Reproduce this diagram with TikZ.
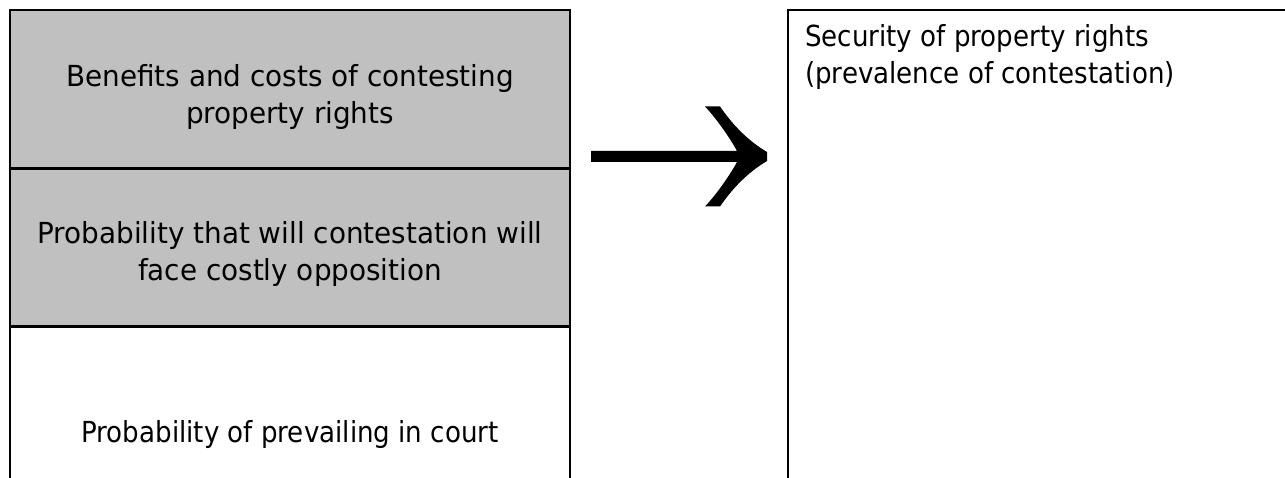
\documentclass[tikz,border=0pt]{standalone}
\usepackage{fontspec}
\setmainfont{DejaVu Sans}[FakeStretch=0.9]
\newfontfamily\widerfont{DejaVu Sans}[FakeStretch=0.96]
\definecolor{panelgray}{HTML}{C0C0C0}
\begin{document}
\begin{tikzpicture}[x=1pt,y=-1pt,
  frame/.style={line width=2.4pt,draw=black},
  label/.style={font=\fontsize{29}{37}\selectfont,inner sep=0pt,align=center},
  widelabel/.style={font=\widerfont\fontsize{29}{37}\selectfont,inner sep=0pt,align=center},
  sidelabel/.style={font=\fontsize{29}{37}\selectfont,inner sep=0pt,align=left}]
\useasboundingbox (0,0) rectangle (1285,478);

% left column: three stacked panels
\fill[panelgray] (10,10) rectangle (570,327);
\coordinate (ltop) at (10,10);
\coordinate (rtop) at (570,10);
\coordinate (lbot) at (10,480);
\coordinate (rbot) at (570,480);
\draw[frame] (lbot) -- (ltop) -- (rtop) -- (rbot);
\draw[frame] (10,168.5) -- (570,168.5);
\draw[frame] (10,326.5) -- (570,326.5);

% multi-line nodes sit on the baseline of their last line
\node[widelabel,anchor=base] (benefits) at (290,123.5)
  {Benefits and costs of contesting\\property rights};
\node[widelabel,anchor=base] (opposition) at (290,281)
  {Probability that will contestation will\\face costly opposition};
\node[label,anchor=base] (court) at (290,442)
  {Probability of prevailing in court};

% right panel
\coordinate (qtop) at (788,10);
\coordinate (qright) at (1290,10);
\coordinate (qbot) at (788,480);
\draw[frame] (qbot) -- (qtop) -- (qright);
\node[sidelabel,anchor=base west] (security) at (805,84)
  {Security of property rights\\(prevalence of contestation)};

% heavy arrow between the columns
\coordinate (tail) at (591,156.5);
\coordinate (tip) at (767,156.5);
\fill[black] (tail |- 0,151) -- (737,151)
  .. controls (730,138) and (716,118) .. (705,106.5) -- (720,106.5)
  .. controls (730,121) and (745,139) .. (tip |- 0,152) -- (tip |- 0,161)
  .. controls (745,174) and (730,192) .. (720,206.5) -- (705,206.5)
  .. controls (716,195) and (730,175) .. (737,162) -- (tail |- 0,162) -- cycle;
\end{tikzpicture}
\end{document}
